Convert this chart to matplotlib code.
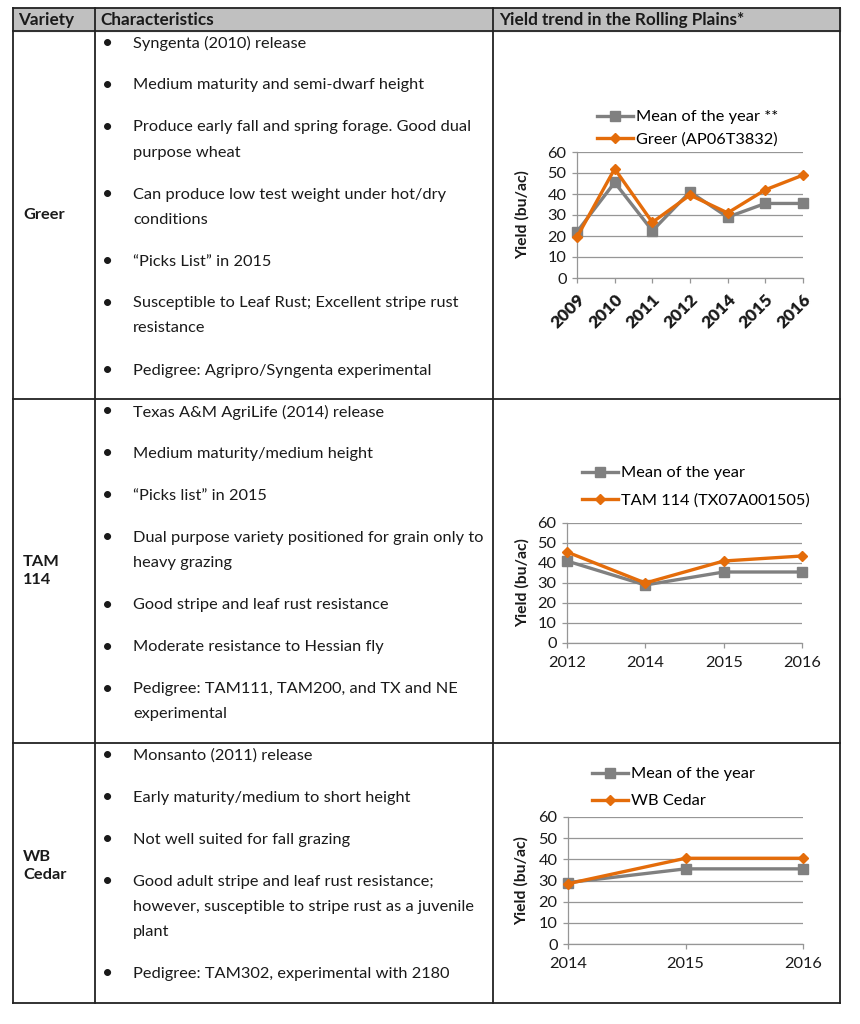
import matplotlib
matplotlib.use("Agg")
import matplotlib.pyplot as plt
from matplotlib.lines import Line2D

plt.rcParams['font.family'] = ['Lato', 'DejaVu Sans']

# ---------------- data ----------------
header_labels = ["Variety", "Characteristics", "Yield trend in the Rolling Plains*"]

varieties = ["Greer", "TAM\n114", "WB\nCedar"]

greer_traits = [
    ["Syngenta (2010) release"],
    ["Medium maturity and semi-dwarf height"],
    ["Produce early fall and spring forage. Good dual", "purpose wheat"],
    ["Can produce low test weight under hot/dry", "conditions"],
    ["\u201cPicks List\u201d in 2015"],
    ["Susceptible to Leaf Rust; Excellent stripe rust", "resistance"],
    ["Pedigree: Agripro/Syngenta experimental"],
]
tam_traits = [
    ["Texas A&M AgriLife (2014) release"],
    ["Medium maturity/medium height"],
    ["\u201cPicks list\u201d in 2015"],
    ["Dual purpose variety positioned for grain only to", "heavy grazing"],
    ["Good stripe and leaf rust resistance"],
    ["Moderate resistance to Hessian fly"],
    ["Pedigree: TAM111, TAM200, and TX and NE", "experimental"],
]
cedar_traits = [
    ["Monsanto (2011) release"],
    ["Early maturity/medium to short height"],
    ["Not well suited for fall grazing"],
    ["Good adult stripe and leaf rust resistance;",
     "however, susceptible to stripe rust as a juvenile", "plant"],
    ["Pedigree: TAM302, experimental with 2180"],
]

greer_years = ["2009", "2010", "2011", "2012", "2014", "2015", "2016"]
greer_mean = [22, 45.5, 22.5, 41, 29, 35.5, 35.5]
greer_yield = [19.5, 52, 26.5, 39.5, 31, 42, 49]
greer_labels = ["Mean of the year **", "Greer (AP06T3832)"]

tam_years = ["2012", "2014", "2015", "2016"]
tam_mean = [41, 29, 35.5, 35.5]
tam_yield = [45.5, 30, 41, 43.5]
tam_labels = ["Mean of the year", "TAM 114 (TX07A001505)"]

cedar_years = ["2014", "2015", "2016"]
cedar_mean = [29, 35.5, 35.5]
cedar_yield = [28.5, 40.5, 40.5]
cedar_labels = ["Mean of the year", "WB Cedar"]

y_ticks = [0, 10, 20, 30, 40, 50, 60]
y_label = "Yield (bu/ac)"

# ---------------- layout ----------------
W, H = 860, 1024
fig = plt.figure(figsize=(W / 100, H / 100), dpi=100)
bg = fig.add_axes([0, 0, 1, 1])
bg.set_xlim(0, W)
bg.set_ylim(H, 0)
bg.axis('off')

GRAY = '#808080'
ORANGE = '#E46C0A'
LINE = '#222222'
TXT = '#1a1a1a'

xL, xC1, xC2, xR = 13, 95, 493, 840
yT, yH, yR1, yR2, yB = 8, 31, 399, 743, 1003

bg.fill_between([xL, xR], yT, yH, color='#c0c0c0', zorder=0)
lw = 1.3
for y in [yT, yH, yR1, yR2, yB]:
    bg.plot([xL, xR], [y, y], color=LINE, lw=lw, solid_capstyle='projecting')
for x in [xL, xC1, xC2, xR]:
    bg.plot([x, x], [yT, yB], color=LINE, lw=lw, solid_capstyle='projecting')

FS = 11.8
HFS = 12.3
bg.text(18, 20, header_labels[0], fontsize=HFS, fontweight='bold', va='center', color=TXT)
bg.text(100, 20, header_labels[1], fontsize=HFS, fontweight='bold', va='center', color=TXT)
bg.text(499, 20, header_labels[2], fontsize=HFS, fontweight='bold', va='center', color=TXT)

var_y = [215, 571, 866]
for name, vy in zip(varieties, var_y):
    bg.text(23, vy, name, fontsize=FS, fontweight='bold', va='center', ha='left',
            linespacing=1.45, color=TXT)

def draw_traits(traits, y0):
    y = y0
    for item in traits:
        bg.text(108, y, "\u2022", fontsize=FS + 2, va='center', ha='center', color=TXT)
        for i, line in enumerate(item):
            bg.text(133, y, line, fontsize=FS, va='center', ha='left', color=TXT)
            if i < len(item) - 1:
                y += 25
        y += 42

draw_traits(greer_traits, yH + 12.5)
draw_traits(tam_traits, yR1 + 13)
draw_traits(cedar_traits, yR2 + 13)

# ---------------- charts ----------------
def make_chart(box, years, mean, yld, labels, legend_xy, rotate, ylab_x, legend_spacing):
    l, r, t, b = box
    ax = fig.add_axes([l / W, (H - b) / H, (r - l) / W, (b - t) / H])
    x = list(range(len(years)))
    ax.plot(x, mean, color=GRAY, lw=2.4, marker='s', ms=7, clip_on=False, zorder=3)
    ax.plot(x, yld, color=ORANGE, lw=2.4, marker='D', ms=5, clip_on=False, zorder=4)
    ax.set_xlim(0, len(years) - 1)
    ax.set_ylim(0, 60)
    ax.set_yticks(y_ticks)
    ax.set_xticks(x)
    ax.grid(axis='y', color='#969696', lw=0.9)
    ax.set_axisbelow(True)
    for s in ['top', 'right']:
        ax.spines[s].set_visible(False)
    for s in ['left', 'bottom']:
        ax.spines[s].set_color('#969696')
        ax.spines[s].set_linewidth(0.9)
    ax.tick_params(axis='both', colors='#969696', length=3.5, width=0.9, labelcolor=TXT)
    ax.tick_params(axis='y', labelsize=11.8, pad=4)
    if rotate:
        ax.set_xticklabels(years, rotation=45, ha='right', rotation_mode='anchor',
                           fontsize=12.5, fontweight='heavy')
        ax.tick_params(axis='x', pad=6)
    else:
        ax.set_xticklabels(years, fontsize=11.8)
        ax.tick_params(axis='x', pad=6)
    ax.set_ylabel(y_label, fontsize=11.3, fontweight='bold', color=TXT)
    ax.yaxis.set_label_coords(ylab_x, 0.5)
    handles = [Line2D([], [], color=GRAY, lw=2.4, marker='s', ms=7),
               Line2D([], [], color=ORANGE, lw=2.4, marker='D', ms=5)]
    ax.legend(handles, labels, loc='upper left',
              bbox_to_anchor=(legend_xy[0] / W, (H - legend_xy[1]) / H),
              bbox_transform=fig.transFigure, frameon=False, borderpad=0,
              borderaxespad=0, handlelength=2.2, handletextpad=0.15,
              labelspacing=legend_spacing, fontsize=11.8)
    return ax

make_chart((577, 803, 152, 278), greer_years, greer_mean, greer_yield, greer_labels,
           (597, 110), True, -0.208, 0.5)
make_chart((567, 802, 523, 643), tam_years, tam_mean, tam_yield, tam_labels,
           (582, 466), False, -0.157, 0.8)
make_chart((568, 803, 817, 944), cedar_years, cedar_mean, cedar_yield, cedar_labels,
           (592, 767), False, -0.166, 0.75)

fig.savefig("out.png", dpi=100)
